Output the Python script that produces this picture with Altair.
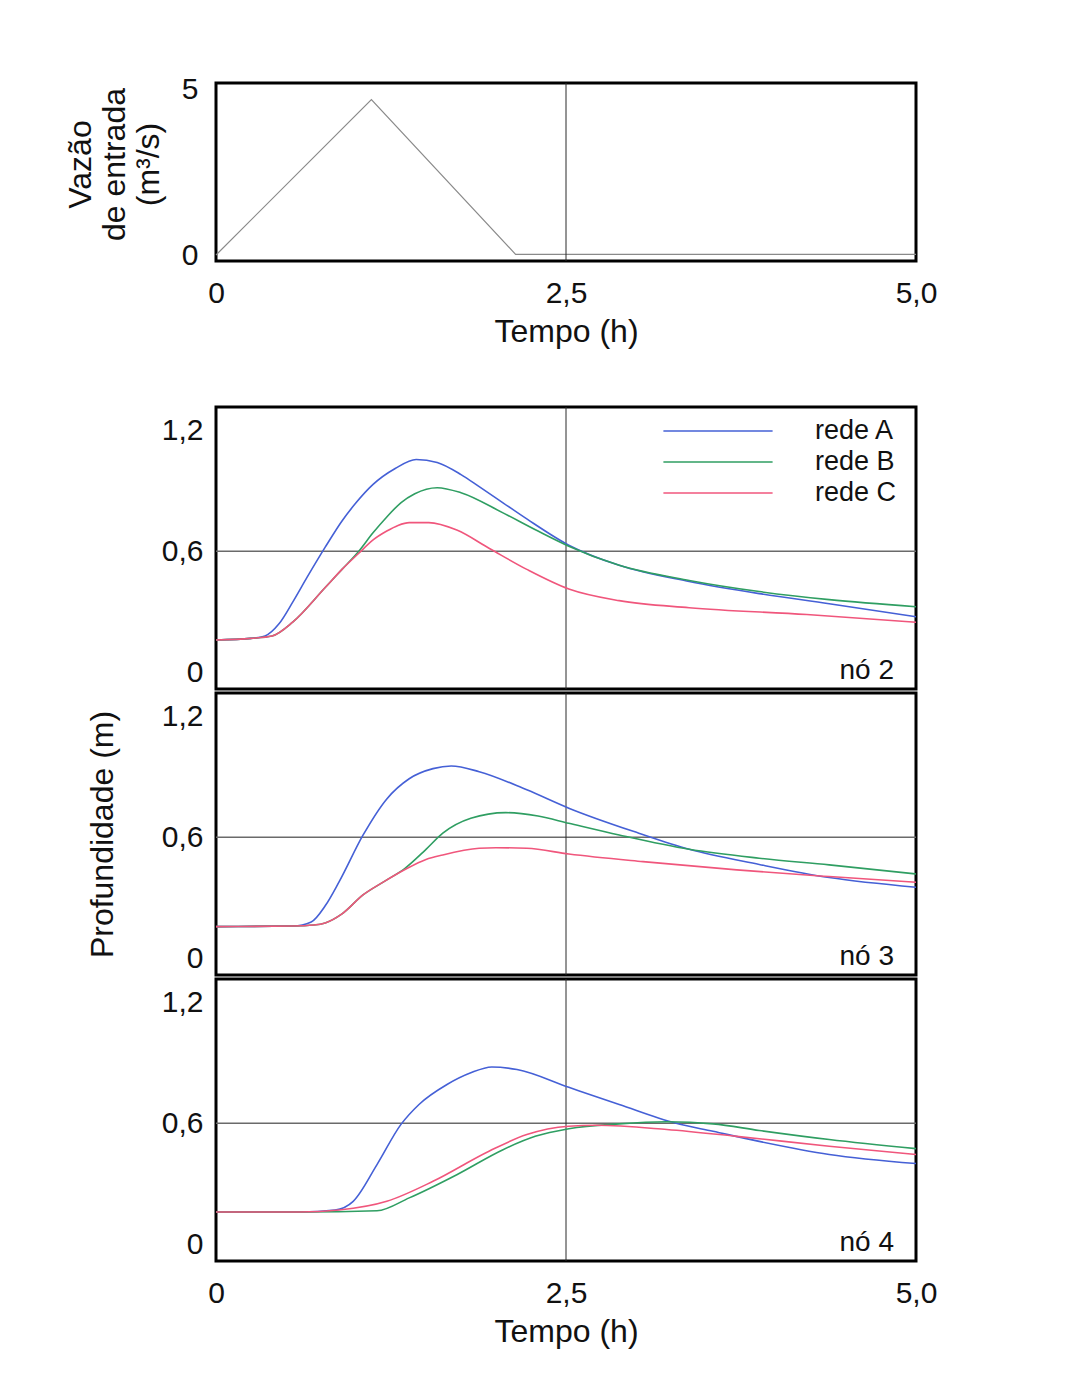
import altair as alt
import pandas as pd

# ---------------- data ----------------
t_in = [0.0, 1.11, 2.14, 5.0]
q_in = [0.0, 4.7, 0.02, 0.02]

series = ["rede A", "rede B", "rede C"]
colors = ["#4560d6", "#2f9e62", "#f0567c"]
nodes = ["nó 2", "nó 3", "nó 4"]

n2_A_t = [0, 0.25, 0.35, 0.45, 0.55, 0.65, 0.78, 0.9, 1.0, 1.12, 1.28, 1.43, 1.58, 1.75, 1.88, 2.05, 2.22, 2.52, 2.88, 3.38, 3.88, 4.38, 5.0]
n2_A_v = [0.16, 0.168, 0.18, 0.24, 0.35, 0.47, 0.62, 0.75, 0.84, 0.93, 1.01, 1.055, 1.04, 0.98, 0.92, 0.84, 0.76, 0.63, 0.53, 0.45, 0.39, 0.34, 0.275]
n2_B_t = [0, 0.25, 0.4, 0.55, 0.78, 0.9, 1.02, 1.12, 1.22, 1.32, 1.42, 1.58, 1.75, 2.05, 2.3, 2.52, 2.88, 3.38, 3.88, 4.38, 5.0]
n2_B_v = [0.16, 0.168, 0.18, 0.25, 0.42, 0.51, 0.6, 0.69, 0.77, 0.84, 0.885, 0.915, 0.89, 0.79, 0.7, 0.625, 0.53, 0.455, 0.40, 0.36, 0.325]
n2_C_t = [0, 0.25, 0.4, 0.55, 0.78, 0.9, 1.02, 1.12, 1.22, 1.3, 1.38, 1.52, 1.72, 1.95, 2.22, 2.52, 2.88, 3.38, 4.22, 5.0]
n2_C_v = [0.16, 0.168, 0.18, 0.25, 0.42, 0.51, 0.59, 0.655, 0.7, 0.728, 0.742, 0.742, 0.705, 0.615, 0.51, 0.413, 0.355, 0.32, 0.286, 0.248]

n3_A_t = [0, 0.55, 0.68, 0.78, 0.88, 1.05, 1.22, 1.38, 1.55, 1.68, 1.88, 2.22, 2.52, 3.02, 3.38, 3.88, 4.38, 5.0]
n3_A_v = [0.157, 0.16, 0.18, 0.26, 0.38, 0.61, 0.79, 0.89, 0.94, 0.953, 0.925, 0.835, 0.744, 0.62, 0.54, 0.465, 0.40, 0.352]
n3_B_t = [0, 0.55, 0.7, 0.78, 0.9, 1.05, 1.2, 1.35, 1.5, 1.62, 1.82, 2.07, 2.3, 2.52, 2.88, 3.38, 3.88, 4.38, 5.0]
n3_B_v = [0.157, 0.16, 0.165, 0.175, 0.22, 0.314, 0.38, 0.446, 0.54, 0.62, 0.694, 0.722, 0.705, 0.669, 0.611, 0.54, 0.496, 0.463, 0.418]
n3_C_t = [0, 0.55, 0.7, 0.78, 0.9, 1.05, 1.2, 1.35, 1.5, 1.62, 1.88, 2.0, 2.22, 2.52, 3.05, 3.72, 4.38, 5.0]
n3_C_v = [0.157, 0.16, 0.165, 0.175, 0.22, 0.314, 0.38, 0.44, 0.49, 0.512, 0.545, 0.548, 0.545, 0.517, 0.479, 0.438, 0.405, 0.377]

n4_A_t = [0, 0.6, 0.85, 0.98, 1.15, 1.32, 1.45, 1.65, 1.82, 1.97, 2.15, 2.52, 2.88, 3.28, 3.55, 3.88, 4.38, 5.0]
n4_A_v = [0.16, 0.16, 0.17, 0.213, 0.395, 0.593, 0.693, 0.792, 0.85, 0.879, 0.866, 0.778, 0.693, 0.601, 0.56, 0.51, 0.445, 0.40]
n4_B_t = [0, 0.6, 1.15, 1.38, 1.72, 2.05, 2.28, 2.52, 2.88, 3.22, 3.55, 3.88, 4.38, 5.0]
n4_B_v = [0.16, 0.16, 0.166, 0.23, 0.345, 0.469, 0.535, 0.573, 0.597, 0.607, 0.597, 0.564, 0.519, 0.474]
n4_C_t = [0, 0.6, 0.88, 1.22, 1.55, 1.95, 2.22, 2.52, 2.72, 3.22, 3.72, 4.38, 5.0]
n4_C_v = [0.16, 0.16, 0.17, 0.213, 0.312, 0.461, 0.544, 0.585, 0.59, 0.569, 0.535, 0.486, 0.445]

x_ticks = [0, 2.5, 5.0]
y_ticks = [0, 0.6, 1.2]
q_ticks = [0, 5]
ref_t = [2.5]
ref_v = [0.6]

raw = {
    "nó 2": [(n2_A_t, n2_A_v), (n2_B_t, n2_B_v), (n2_C_t, n2_C_v)],
    "nó 3": [(n3_A_t, n3_A_v), (n3_B_t, n3_B_v), (n3_C_t, n3_C_v)],
    "nó 4": [(n4_A_t, n4_A_v), (n4_B_t, n4_B_v), (n4_C_t, n4_C_v)],
}
rows = []
for node, lst in raw.items():
    for s, (ts, vs) in zip(series, lst):
        for t, v in zip(ts, vs):
            rows.append({"node": node, "serie": s, "t": t, "v": v})
df = pd.DataFrame(rows)
inflow = pd.DataFrame({"t": t_in, "q": q_in})

FONT = "Liberation Sans"
LBL = 30
TTL = 32
W = 700
H_TOP = 178
H = 282

comma = "datum.value == 0 ? '0' : replace(format(datum.value, '.1f'), '.', ',')"
intfmt = "format(datum.value, 'd')"

xscale = alt.Scale(domain=[0, 5], nice=False, zero=False)
yscale = alt.Scale(domain=[-0.083, 1.315], nice=False, zero=False)
qscale = alt.Scale(domain=[-0.18, 5.2], nice=False, zero=False)


def x_axis():
    return alt.Axis(values=x_ticks, labelExpr=comma, title="Tempo (h)", labelFlush=False,
                    labelPadding=17, titlePadding=8)


def y_axis(show_title):
    return alt.Axis(values=y_ticks, labelExpr=comma, labelPadding=13,
                    title="Profundidade (m)" if show_title else "", titlePadding=42)


def vline(show_x):
    return alt.Chart(pd.DataFrame({"t": ref_t})).mark_rule(color="#2a2a2a", strokeWidth=1).encode(
        x=alt.X("t:Q", scale=xscale, axis=x_axis() if show_x else None))


q_axis = alt.Axis(values=q_ticks, labelExpr=intfmt, labelPadding=18,
                  title=["Vazão", "de entrada", "(m³/s)"], titlePadding=16,
                  titleLineHeight=34, titleY=H_TOP / 2 - 8)

top_line = alt.Chart(inflow).mark_line(color="#8a8a8a", strokeWidth=1.2).encode(
    x=alt.X("t:Q", scale=xscale, axis=x_axis()),
    y=alt.Y("q:Q", scale=qscale, axis=q_axis),
)
spacer = alt.Chart(pd.DataFrame({"s": [" "]})).mark_text(fontSize=10, opacity=0).encode(
    x=alt.value(W / 2), y=alt.value(H_TOP + 137), text="s:N")
top = alt.layer(top_line, vline(True), spacer).properties(width=W, height=H_TOP)


def panel(node, show_x, show_ytitle, show_legend):
    d = df[df.node == node]
    legend = None
    if show_legend:
        legend = alt.Legend(orient="none", legendX=488, legendY=10, title=None,
                            symbolType="M-4.2,0L4.2,0", symbolSize=676,
                            symbolStrokeWidth=1.6, labelOffset=83,
                            labelFontSize=27, labelFont=FONT, labelColor="#111111",
                            rowPadding=4, padding=0)
    lines = alt.Chart(d).mark_line(strokeWidth=1.6, interpolate="monotone").encode(
        x=alt.X("t:Q", scale=xscale, axis=x_axis() if show_x else None),
        y=alt.Y("v:Q", scale=yscale, axis=y_axis(show_ytitle)),
        color=alt.Color("serie:N", scale=alt.Scale(domain=series, range=colors), legend=legend),
    )
    hline = alt.Chart(pd.DataFrame({"v": ref_v})).mark_rule(color="#6a6a6a", strokeWidth=1.5).encode(
        y=alt.Y("v:Q", scale=yscale, axis=y_axis(show_ytitle)))
    lab = alt.Chart(pd.DataFrame({"node": [node]})).mark_text(
        align="right", baseline="bottom", fontSize=28, font=FONT, color="#111111").encode(
        x=alt.value(W - 22), y=alt.value(H - 4), text="node:N")
    return alt.layer(hline, vline(show_x), lines, lab).properties(width=W, height=H)


p2 = panel("nó 2", False, False, True)
p3 = panel("nó 3", False, True, False)
p4 = panel("nó 4", True, False, False)

chart = alt.vconcat(top, p2, p3, p4, spacing=0).resolve_scale(color="independent").properties(
    padding={"left": 54, "top": 65, "right": 20, "bottom": 20}
).configure_view(
    stroke="black", strokeWidth=3
).configure_axis(
    domain=False, ticks=False, grid=False,
    labelFont=FONT, labelFontSize=LBL, labelColor="#111111",
    titleFont=FONT, titleFontSize=TTL, titleFontWeight="normal", titleColor="#111111",
)

chart.save("out.html", embed_options={"renderer": "svg", "actions": False})
